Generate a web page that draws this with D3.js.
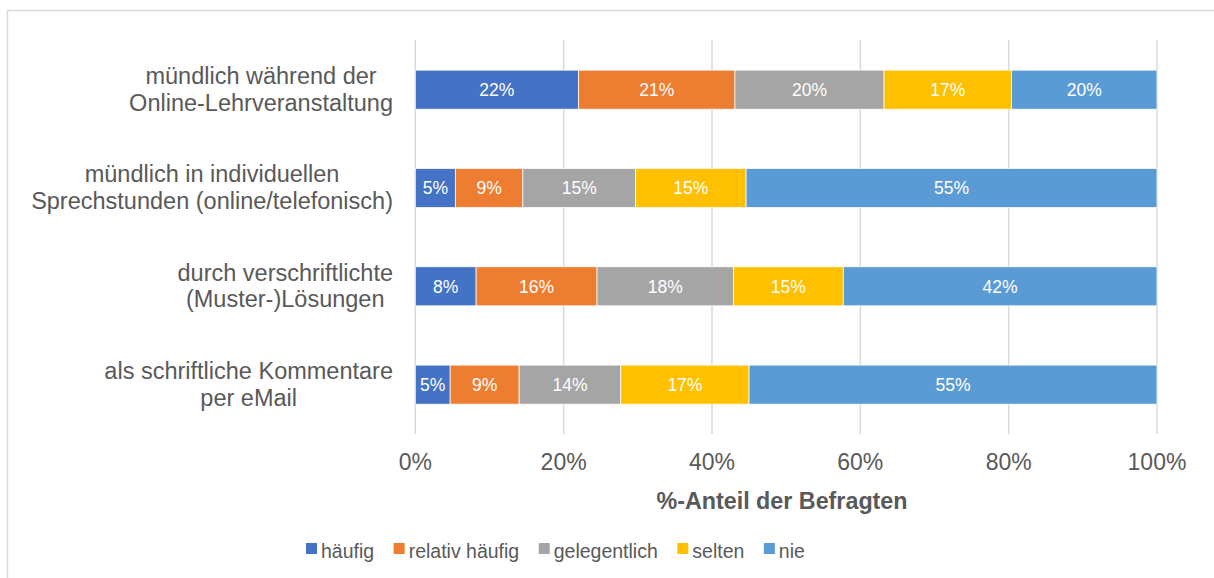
<!DOCTYPE html>
<html>
<head>
<meta charset="utf-8">
<script src="https://cdn.jsdelivr.net/npm/d3@7"></script>
<style>
  html, body { margin: 0; padding: 0; background: #fff; }
  svg { display: block; }
  text { font-family: Arial, "Liberation Sans", sans-serif; }
</style>
</head>
<body>
<svg id="chart" width="1214" height="578"></svg>
<script>
// ---- data ----
const categories = [
  ["mündlich während der", "Online-Lehrveranstaltung"],
  ["mündlich in individuellen", "Sprechstunden (online/telefonisch)"],
  ["durch verschriftlichte", "(Muster-)Lösungen"],
  ["als schriftliche Kommentare", "per eMail"]
];
const seriesNames = ["häufig", "relativ häufig", "gelegentlich", "selten", "nie"];
const haeufig        = [22.0,  5.4,  8.2,  4.7];
const relativHaeufig = [21.1,  9.1, 16.3,  9.3];
const gelegentlich   = [20.1, 15.2, 18.4, 13.7];
const selten         = [17.2, 14.9, 14.8, 17.3];
const nie            = [19.6, 55.4, 42.3, 55.0];
const xTicks = [0, 20, 40, 60, 80, 100];
const xTickLabels = ["0%", "20%", "40%", "60%", "80%", "100%"];
const axisTitle = "%-Anteil der Befragten";
const colors = ["#4472C4", "#ED7D31", "#A5A5A5", "#FFC000", "#5B9BD5"];

// ---- build table ----
const seriesValues = [haeufig, relativHaeufig, gelegentlich, selten, nie];
const table = categories.map((c, i) => {
  const row = { idx: i };
  seriesNames.forEach((s, j) => row[s] = seriesValues[j][i]);
  return row;
});

const svg = d3.select("#chart");
const textColor = "#595959";

// chart frame
svg.append("rect")
  .attr("x", 7.5).attr("y", 10.5)
  .attr("width", 1240).attr("height", 620)
  .attr("fill", "none").attr("stroke", "#d9d9d9").attr("stroke-width", 1.5);

const plot = { left: 415.3, right: 1157, top: 40.5, bottom: 433.8 };

const x = d3.scaleLinear().domain([0, 100]).range([plot.left, plot.right]);
const y = d3.scaleBand().domain(d3.range(categories.length))
  .range([plot.top, plot.bottom]).paddingInner(0.603).paddingOuter(0.3015);

// gridlines
svg.append("g").selectAll("line").data(xTicks).join("line")
  .attr("x1", d => x(d)).attr("x2", d => x(d))
  .attr("y1", 40).attr("y2", 434)
  .attr("stroke", "#d9d9d9").attr("stroke-width", 1.5);

// tick labels
svg.append("g").selectAll("text").data(xTicks).join("text")
  .attr("x", d => x(d)).attr("y", 469.5)
  .attr("text-anchor", "middle")
  .attr("font-size", "23px").attr("fill", textColor)
  .text((d, i) => xTickLabels[i]);

// axis title
svg.append("text")
  .attr("x", 782).attr("y", 509)
  .attr("text-anchor", "middle")
  .attr("font-size", "23.3px").attr("font-weight", "bold").attr("fill", textColor)
  .text(axisTitle);

// stacked bars
const stack = d3.stack().keys(seriesNames)(table);
const layers = svg.append("g").selectAll("g").data(stack).join("g")
  .attr("fill", (d, i) => colors[i]);

layers.selectAll("rect").data(d => d).join("rect")
  .attr("x", d => x(d[0]))
  .attr("width", d => x(d[1]) - x(d[0]))
  .attr("y", d => y(d.data.idx))
  .attr("height", y.bandwidth())
  .attr("stroke", "#ffffff").attr("stroke-width", 0.75);

// data labels
layers.selectAll("text").data(d => d).join("text")
  .attr("x", d => (x(d[0]) + x(d[1])) / 2)
  .attr("y", d => y(d.data.idx) + y.bandwidth() / 2 + 6.3)
  .attr("text-anchor", "middle")
  .attr("font-size", "17.5px").attr("fill", "#ffffff")
  .text(d => Math.round(d[1] - d[0]) + "%");

// category labels (centered lines, right-aligned block)
const labelRight = 393;
const lineH = 26.5;
categories.forEach((lines, i) => {
  const g = svg.append("g");
  const texts = g.selectAll("text").data(lines).join("text")
    .attr("font-size", "23.5px").attr("fill", textColor)
    .attr("text-anchor", "middle")
    .attr("y", (d, k) => y(i) + y.bandwidth() / 2 - 5.5 + k * lineH)
    .text(d => d);
  let maxW = 0;
  texts.each(function () { maxW = Math.max(maxW, this.getComputedTextLength()); });
  texts.attr("x", labelRight - maxW / 2);
});

// legend
const legend = svg.append("g");
let lx = 306;
seriesNames.forEach((s, i) => {
  legend.append("rect")
    .attr("x", lx).attr("y", 543).attr("width", 11).attr("height", 11)
    .attr("fill", colors[i]);
  const t = legend.append("text")
    .attr("x", lx + 15).attr("y", 557.5)
    .attr("font-size", "19.5px").attr("fill", textColor)
    .text(s);
  lx += 15 + t.node().getComputedTextLength() + 19.5;
});
</script>
</body>
</html>
